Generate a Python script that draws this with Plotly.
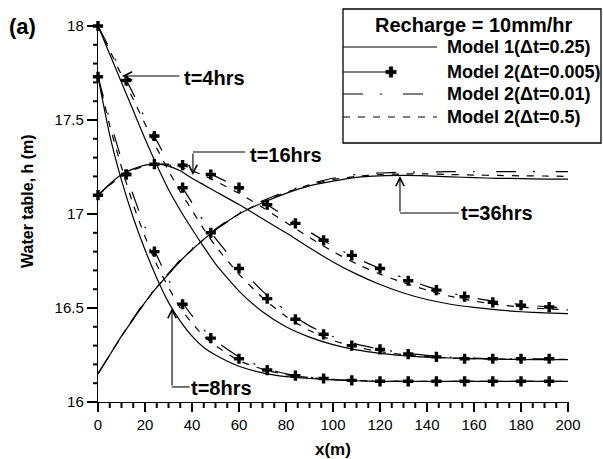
import plotly.graph_objects as go

# ---------------- data ----------------
x_line = [0, 5, 10, 15, 20, 25, 30, 35, 40, 45, 50, 60, 70, 80, 90, 100,
          110, 120, 130, 140, 150, 160, 170, 180, 190, 200]

# Model 1 (dt=0.25) - solid
m1_t4 = [18.00, 17.85, 17.70, 17.55, 17.40, 17.26, 17.13, 17.02, 16.92, 16.825, 16.735,
         16.59, 16.48, 16.40, 16.345, 16.305, 16.277, 16.259, 16.247, 16.239, 16.234,
         16.23, 16.228, 16.226, 16.225, 16.225]
m1_t8 = [17.73, 17.42, 17.18, 16.98, 16.81, 16.66, 16.53, 16.43, 16.35, 16.29, 16.25,
         16.19, 16.155, 16.135, 16.125, 16.118, 16.113, 16.11, 16.11, 16.11, 16.11,
         16.11, 16.11, 16.11, 16.11, 16.11]
m1_t16 = [17.10, 17.16, 17.21, 17.24, 17.26, 17.265, 17.255, 17.23, 17.19, 17.155, 17.12,
          17.05, 16.975, 16.90, 16.82, 16.745, 16.68, 16.625, 16.58, 16.545, 16.52,
          16.503, 16.49, 16.48, 16.474, 16.47]
m1_t36 = [16.15, 16.25, 16.35, 16.44, 16.53, 16.61, 16.68, 16.75, 16.81, 16.865, 16.915,
          17.00, 17.06, 17.11, 17.15, 17.175, 17.195, 17.203, 17.205, 17.203, 17.198,
          17.193, 17.19, 17.188, 17.186, 17.185]

# Model 2 (dt=0.01) - dash-dot
m2b_t4 = [18.00, 17.88, 17.76, 17.64, 17.51, 17.39, 17.275, 17.16, 17.06, 16.96, 16.87,
          16.72, 16.59, 16.485, 16.405, 16.348, 16.308, 16.281, 16.262, 16.248, 16.238,
          16.233, 16.23, 16.23, 16.23, 16.23]
m2b_t8 = [17.73, 17.50, 17.29, 17.10, 16.93, 16.78, 16.65, 16.545, 16.46, 16.385, 16.325,
          16.24, 16.185, 16.15, 16.132, 16.12, 16.115, 16.112, 16.11, 16.11, 16.11,
          16.11, 16.11, 16.11, 16.11, 16.11]
m2b_t16 = [17.10, 17.155, 17.20, 17.235, 17.255, 17.265, 17.265, 17.258, 17.245, 17.225,
           17.20, 17.14, 17.065, 16.985, 16.905, 16.83, 16.765, 16.71, 16.66, 16.615,
           16.58, 16.553, 16.533, 16.518, 16.508, 16.50]
m2b_t36 = [16.15, 16.25, 16.35, 16.445, 16.535, 16.615, 16.685, 16.755, 16.815, 16.87,
           16.92, 17.005, 17.07, 17.12, 17.16, 17.19, 17.21, 17.218, 17.222, 17.224,
           17.225, 17.225, 17.225, 17.225, 17.225, 17.225]

# Model 2 (dt=0.5) - dashed
m2c_t4 = [18.00, 17.87, 17.74, 17.61, 17.48, 17.35, 17.23, 17.12, 17.02, 16.92, 16.83,
          16.68, 16.555, 16.455, 16.38, 16.328, 16.292, 16.268, 16.252, 16.241, 16.234,
          16.23, 16.228, 16.227, 16.227, 16.227]
m2c_t8 = [17.73, 17.47, 17.25, 17.05, 16.88, 16.73, 16.61, 16.50, 16.42, 16.35, 16.30,
          16.22, 16.175, 16.145, 16.13, 16.12, 16.114, 16.111, 16.11, 16.11, 16.11,
          16.11, 16.11, 16.11, 16.11, 16.11]
m2c_t16 = [17.10, 17.155, 17.20, 17.235, 17.255, 17.265, 17.262, 17.25, 17.23, 17.205,
           17.175, 17.11, 17.035, 16.955, 16.875, 16.80, 16.735, 16.68, 16.635, 16.595,
           16.562, 16.537, 16.518, 16.505, 16.496, 16.49]
m2c_t36 = [16.15, 16.25, 16.35, 16.44, 16.53, 16.61, 16.68, 16.75, 16.81, 16.865, 16.915,
           17.00, 17.065, 17.115, 17.155, 17.183, 17.20, 17.21, 17.213, 17.213, 17.21,
           17.207, 17.205, 17.203, 17.202, 17.20]

# Model 2 (dt=0.005) - markers
x_mark = [0, 12, 24, 36, 48, 60, 72, 84, 96, 108, 120, 132, 144, 156, 168, 180, 192]
m2a_t4 = [18.00, 17.71, 17.415, 17.14, 16.90, 16.71, 16.55, 16.44, 16.36, 16.30, 16.28,
          16.255, 16.24, 16.23, 16.23, 16.23, 16.23]
m2a_t8 = [17.73, 17.21, 16.80, 16.52, 16.34, 16.23, 16.17, 16.14, 16.125, 16.115, 16.11,
          16.11, 16.11, 16.11, 16.11, 16.11, 16.11]
m2a_t16 = [17.10, 17.21, 17.265, 17.26, 17.21, 17.14, 17.05, 16.95, 16.86, 16.78, 16.71,
           16.645, 16.595, 16.56, 16.53, 16.515, 16.505]

# axes
x_range = [0, 200]
y_range = [16, 18]
x_major = [0, 20, 40, 60, 80, 100, 120, 140, 160, 180, 200]
x_minor_step = 5
y_major = [16, 16.5, 17, 17.5, 18]
y_minor_step = 0.1

legend_title = "Recharge = 10mm/hr"
legend_labels = ["Model 1(\u0394t=0.25)", "Model 2(\u0394t=0.005)",
                 "Model 2(\u0394t=0.01)", "Model 2(\u0394t=0.5)"]

# ---------------- figure ----------------
FONT = "Liberation Sans, Arial, sans-serif"
W, H = 603, 459
ML, MR, MT, MB = 98, 35, 26, 57
PW, PH = W - ML - MR, H - MT - MB

def px(xp):
    return (xp - ML) / PW

def py(yp):
    return (H - MB - yp) / PH

DASHDOT = "20px,17px,2px,21px"
DASHED = "7px,8px"
LW = 1.2

fig = go.Figure()

for ys in [m1_t4, m1_t8, m1_t16, m1_t36]:
    fig.add_trace(go.Scatter(x=x_line, y=ys, mode="lines", showlegend=False,
                             line=dict(color="black", width=LW, shape="spline", smoothing=0.6),
                             hoverinfo="skip"))
for ys in [m2b_t4, m2b_t8, m2b_t16, m2b_t36]:
    fig.add_trace(go.Scatter(x=x_line, y=ys, mode="lines", showlegend=False,
                             line=dict(color="black", width=LW, dash=DASHDOT,
                                       shape="spline", smoothing=0.6),
                             hoverinfo="skip"))
for ys in [m2c_t4, m2c_t8, m2c_t16, m2c_t36]:
    fig.add_trace(go.Scatter(x=x_line, y=ys, mode="lines", showlegend=False,
                             line=dict(color="black", width=LW, dash=DASHED,
                                       shape="spline", smoothing=0.6),
                             hoverinfo="skip"))
for ys in [m2a_t4, m2a_t8, m2a_t16]:
    fig.add_trace(go.Scatter(x=x_mark, y=ys, mode="markers", showlegend=False,
                             marker=dict(symbol="cross", size=8.5, color="black"),
                             cliponaxis=False, hoverinfo="skip"))

shapes = []
annotations = []

# ---- tick marks (drawn explicitly from the tick values) ----
def xfrac(v):
    return (v - x_range[0]) / (x_range[1] - x_range[0])

def yfrac(v):
    return (v - y_range[0]) / (y_range[1] - y_range[0])

n_xminor = int(round((x_range[1] - x_range[0]) / x_minor_step))
for i in range(n_xminor + 1):
    v = x_range[0] + i * x_minor_step
    major = any(abs(v - m) < 1e-9 for m in x_major)
    ln = 9 if major else 6
    shapes.append(dict(type="line", xref="paper", yref="paper", x0=xfrac(v), x1=xfrac(v),
                       y0=0, y1=-ln / PH, layer="above",
                       line=dict(color="black", width=2)))
n_yminor = int(round((y_range[1] - y_range[0]) / y_minor_step))
for i in range(n_yminor + 1):
    v = y_range[0] + i * y_minor_step
    major = any(abs(v - m) < 1e-9 for m in y_major)
    ln = 10 if major else 5
    shapes.append(dict(type="line", xref="paper", yref="paper", x0=0, x1=-ln / PW,
                       y0=yfrac(v), y1=yfrac(v), layer="above",
                       line=dict(color="black", width=2)))

# ---- time labels with bent arrows ----
def arrow(x0, y0, x1, y1):
    annotations.append(dict(x=x1, y=y1, ax=x0, ay=y0, xref="x", yref="y",
                            axref="x", ayref="y", text="", showarrow=True,
                            arrowhead=5, arrowsize=1.5, arrowwidth=1.1,
                            arrowcolor="black", standoff=0, startstandoff=0))

def seg(x0, y0, x1, y1):
    shapes.append(dict(type="line", xref="x", yref="y", x0=x0, y0=y0, x1=x1, y1=y1,
                       line=dict(color="black", width=1.1)))

def label(x, y, t):
    annotations.append(dict(x=x, y=y, xref="x", yref="y", text=t, showarrow=False,
                            xanchor="left", yanchor="middle",
                            font=dict(family=FONT, size=20, color="black", weight="bold")))

# t=4hrs
arrow(35.3, 17.734, 10.2, 17.734)
label(35.6, 17.724, "t=4hrs")
# t=16hrs
seg(40.4, 17.330, 62.6, 17.330)
arrow(40.4, 17.330, 40.4, 17.207)
label(64.0, 17.312, "t=16hrs")
# t=36hrs
seg(128.5, 17.005, 153.5, 17.005)
arrow(128.5, 17.005, 128.5, 17.202)
label(153.5, 17.003, "t=36hrs")
# t=8hrs
seg(31.5, 16.080, 39.0, 16.080)
arrow(31.5, 16.080, 31.5, 16.50)
label(38.8, 16.075, "t=8hrs")

# ---- custom legend ----
bx0, by0, bx1, by1 = 343, 9, 601, 143
shapes.append(dict(type="rect", xref="paper", yref="paper",
                   x0=px(bx0), y0=py(by1), x1=px(bx1), y1=py(by0),
                   line=dict(color="black", width=1.3), fillcolor="white", layer="above"))
annotations.append(dict(x=px(474), y=py(25), xref="paper", yref="paper",
                        text=legend_title, showarrow=False, xanchor="center", yanchor="middle",
                        font=dict(family=FONT, size=20, color="black", weight="bold")))
rows = [47, 72, 94, 117]
samples = [("solid", 437), ("solid", 388), (DASHDOT, 437), (DASHED, 437)]
for (dash, xend), ry, lab in zip(samples, rows, legend_labels):
    shapes.append(dict(type="line", xref="paper", yref="paper",
                       x0=px(343), y0=py(ry), x1=px(xend), y1=py(ry),
                       line=dict(color="black", width=LW, dash=dash), layer="above"))
    annotations.append(dict(x=px(445), y=py(ry), xref="paper", yref="paper", text=lab,
                            showarrow=False, xanchor="left", yanchor="middle",
                            font=dict(family=FONT, size=18, color="black", weight="bold")))
# plus symbol for the marker sample
cx, cy, a, t = 391, 72, 5.2, 1.8
pts = [(-a, -t), (-t, -t), (-t, -a), (t, -a), (t, -t), (a, -t), (a, t), (t, t), (t, a),
       (-t, a), (-t, t), (-a, t)]
path = "M " + " L ".join(f"{px(cx + dx):.5f},{py(cy + dy):.5f}" for dx, dy in pts) + " Z"
shapes.append(dict(type="path", xref="paper", yref="paper", path=path,
                   fillcolor="black", line=dict(color="black", width=0.5), layer="above"))

# ---- axis titles and panel label ----
annotations.append(dict(x=px(27), y=py(201), xref="paper", yref="paper",
                        text="Water table, h (m)", textangle=-90, showarrow=False,
                        xanchor="center", yanchor="middle",
                        font=dict(family=FONT, size=16, color="black", weight="bold")))
annotations.append(dict(x=0.5, y=py(449), xref="paper", yref="paper", text="x(m)",
                        showarrow=False, xanchor="center", yanchor="middle",
                        font=dict(family=FONT, size=17, color="black", weight="bold")))
annotations.append(dict(x=px(22), y=py(27), xref="paper", yref="paper", text="(a)",
                        showarrow=False, xanchor="center", yanchor="middle",
                        font=dict(family=FONT, size=22, color="black", weight="bold")))

fig.update_layout(
    width=W, height=H,
    margin=dict(l=ML, r=MR, t=MT, b=MB, pad=0),
    paper_bgcolor="white", plot_bgcolor="white",
    showlegend=False,
    shapes=shapes, annotations=annotations,
    font=dict(family=FONT, size=15, color="black"),
)
fig.update_xaxes(range=x_range, tickvals=x_major, ticks="outside", ticklen=9,
                 tickwidth=2, tickcolor="black", showline=True, linecolor="black",
                 linewidth=1.4, showgrid=False, zeroline=False,
                 tickfont=dict(family=FONT, size=15, color="black"))
fig.update_yaxes(range=y_range, tickvals=y_major, ticks="outside", ticklen=10,
                 tickwidth=2, tickcolor="black", showline=True, linecolor="black",
                 linewidth=1.4, showgrid=False, zeroline=False,
                 tickfont=dict(family=FONT, size=15, color="black"))

fig.write_html("out.html")
